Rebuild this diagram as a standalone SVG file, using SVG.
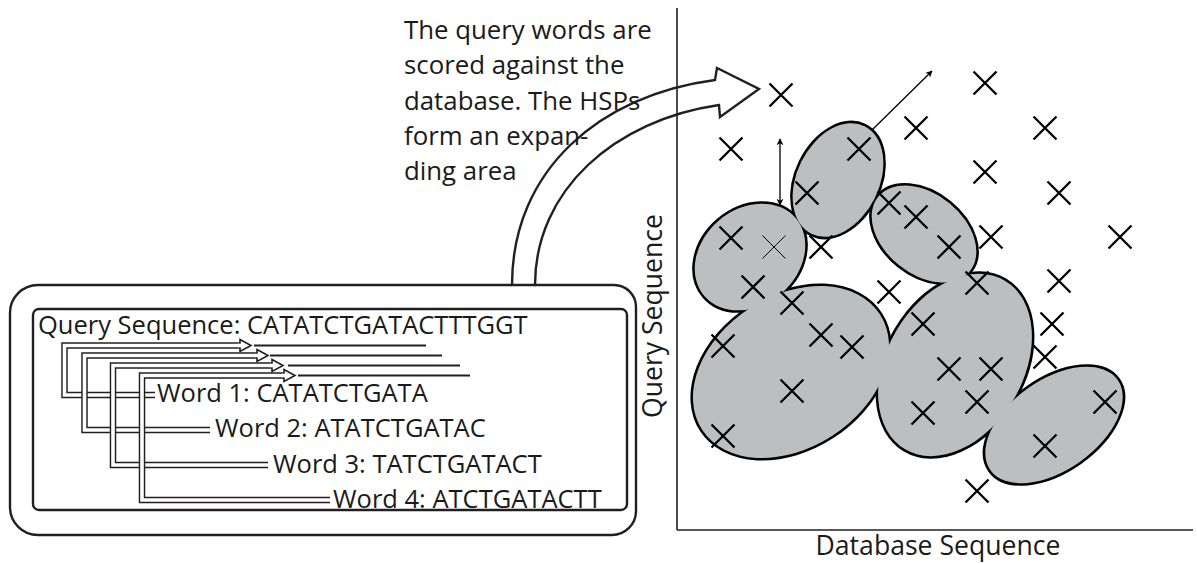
<svg xmlns="http://www.w3.org/2000/svg" xmlns:xlink="http://www.w3.org/1999/xlink" width="1197" height="564" viewBox="0 0 1197 564">
  <style>
    .t { font-family: "Open Sans", "Liberation Sans", sans-serif; font-size: 25.5px; fill: #1a1a1a; }
    .cap { font-size: 25.8px; }
    .ax { font-size: 26.6px; }
    .box { fill: none; stroke: #231f20; stroke-width: 2.4; }
    .dbl-o { fill: none; stroke: #231f20; stroke-width: 6.5; }
    .dbl-i { fill: none; stroke: #ffffff; stroke-width: 3.6; }
    .head { fill: #ffffff; stroke: #231f20; stroke-width: 1.6; stroke-linejoin: miter; }
    .seg { stroke: #231f20; stroke-width: 1.8; }
    .cross { fill: none; stroke: #000000; stroke-width: 2.3; }
    .cross-thin { fill: none; stroke: #000000; stroke-width: 1; }
    .axis { stroke: #231f20; stroke-width: 1.6; fill: none; }
    .blob-line { stroke: #000000; stroke-width: 5; fill: #bcbec0; }
    .blob-fill { fill: #bcbec0; stroke: none; }
    .thin-arrow { stroke: #000000; stroke-width: 1.3; fill: none; }
  </style>
  <defs>
    <path id="xmark" d="M-11.5,-11.5L11.5,11.5M-11.5,11.5L11.5,-11.5"/>
    <marker id="ah" viewBox="0 0 10 10" refX="9" refY="5" markerWidth="7" markerHeight="7" markerUnits="userSpaceOnUse" orient="auto-start-reverse">
      <path d="M0,0 L10,5 L0,10 L3,5 Z" fill="#000"/>
    </marker>
    <!-- HSP regions: each a rotated ellipse -->
    <g id="hsp">
      <ellipse cx="838" cy="180" rx="60" ry="41" transform="rotate(-63.7 838 180)"/>
      <ellipse cx="750" cy="257" rx="60" ry="48" transform="rotate(-40.4 750 257)"/>
      <ellipse cx="924" cy="234" rx="59" ry="40" transform="rotate(39 924 234)"/>
      <ellipse cx="791" cy="372" rx="106" ry="76" transform="rotate(-33 791 372)"/>
      <ellipse cx="955" cy="365" rx="98" ry="68" transform="rotate(-59.4 955 365)"/>
      <ellipse cx="1054" cy="425" rx="78" ry="45" transform="rotate(-35.4 1054 425)"/>
    </g>
  </defs>

  <rect width="1197" height="564" fill="#ffffff"/>

  <!-- Query / word panel -->
  <g id="query-panel">
    <path class="box" d="M512,285 H38 A28,28 0 0 0 10,313 V507 A28,28 0 0 0 38,535 H612 A24,24 0 0 0 636,511 V307 A22,22 0 0 0 614,285 H535"/>
    <rect class="box" x="33" y="309" width="594" height="201" rx="6" stroke-width="2"/>
    <text class="t" x="38" y="334">Query Sequence: CATATCTGATACTTTGGT</text>
    <text class="t" x="157" y="402">Word 1: CATATCTGATA</text>
    <text class="t" x="215" y="437">Word 2: ATATCTGATAC</text>
    <text class="t" x="273" y="473">Word 3: TATCTGATACT</text>
    <text class="t" x="333" y="508">Word 4: ATCTGATACTT</text>
  </g>

  <!-- Word-to-query connectors -->
  <g id="connectors">
    <line class="seg" x1="254" y1="345.5" x2="426" y2="345.5"/>
    <line class="seg" x1="270" y1="355.5" x2="442" y2="355.5"/>
    <line class="seg" x1="288" y1="365.5" x2="460" y2="365.5"/>
    <line class="seg" x1="298" y1="375.5" x2="470" y2="375.5"/>

    <path class="dbl-o" d="M155,395 H64.5 V345.5 H241"/>
    <path class="dbl-i" d="M155,395 H64.5 V345.5 H242"/>
    <path class="head" d="M240,339.5 L251,345.5 L240,351.5 Z"/>
    <line stroke="#fff" stroke-width="3.6" x1="238" y1="345.5" x2="241.5" y2="345.5"/>

    <path class="dbl-o" d="M210,430 H84.5 V355.5 H258"/>
    <path class="dbl-i" d="M210,430 H84.5 V355.5 H259"/>
    <path class="head" d="M257,349.5 L268,355.5 L257,361.5 Z"/>
    <line stroke="#fff" stroke-width="3.6" x1="255" y1="355.5" x2="258.5" y2="355.5"/>

    <path class="dbl-o" d="M268,465 H113 V365.5 H273"/>
    <path class="dbl-i" d="M268,465 H113 V365.5 H274"/>
    <path class="head" d="M272,359.5 L283,365.5 L272,371.5 Z"/>
    <line stroke="#fff" stroke-width="3.6" x1="270" y1="365.5" x2="273.5" y2="365.5"/>

    <path class="dbl-o" d="M330,500 H142 V375.5 H285"/>
    <path class="dbl-i" d="M330,500 H142 V375.5 H286"/>
    <path class="head" d="M284,369.5 L295,375.5 L284,381.5 Z"/>
    <line stroke="#fff" stroke-width="3.6" x1="282" y1="375.5" x2="285.5" y2="375.5"/>

    <!-- big curved hollow arrow from the panel to the plot -->
    <path d="M512,285 C512,170 600,95 715,80 L717,68 L759,89 L720,117 L719,105 C615,120 535,190 535,285 Z" fill="#ffffff" stroke="#231f20" stroke-width="2.4" stroke-linejoin="miter"/>
  </g>

  <!-- Caption -->
  <g id="caption">
    <text class="t cap" x="404" y="39">The query words are</text>
    <text class="t cap" x="404" y="74">scored against the</text>
    <text class="t cap" x="404" y="110">database. The HSPs</text>
    <text class="t cap" x="404" y="145">form an expan-</text>
    <text class="t cap" x="404" y="180">ding area</text>
  </g>

  <!-- Dot plot -->
  <g id="plot">
    <line class="axis" x1="677" y1="8" x2="677" y2="530"/>
    <line class="axis" x1="677" y1="530" x2="1193" y2="530"/>
    <text class="t ax" x="938" y="555" text-anchor="middle">Database Sequence</text>
    <text class="t ax" transform="translate(662 316) rotate(-90)" text-anchor="middle">Query Sequence</text>

    <use xlink:href="#hsp" class="blob-line"/>
    <use xlink:href="#hsp" class="blob-fill"/>

    <g class="cross">
      <use xlink:href="#xmark" x="781" y="95"/>
      <use xlink:href="#xmark" x="985" y="83"/>
      <use xlink:href="#xmark" x="731" y="149"/>
      <use xlink:href="#xmark" x="859" y="149"/>
      <use xlink:href="#xmark" x="916" y="128"/>
      <use xlink:href="#xmark" x="1045" y="128"/>
      <use xlink:href="#xmark" x="807" y="193"/>
      <use xlink:href="#xmark" x="985" y="172"/>
      <use xlink:href="#xmark" x="1059" y="193"/>
      <use xlink:href="#xmark" x="889" y="203"/>
      <use xlink:href="#xmark" x="916" y="217"/>
      <use xlink:href="#xmark" x="949" y="247"/>
      <use xlink:href="#xmark" x="991" y="237"/>
      <use xlink:href="#xmark" x="1120" y="237"/>
      <use xlink:href="#xmark" x="731" y="238"/>
      <use xlink:href="#xmark" x="821" y="247"/>
      <use xlink:href="#xmark" x="753" y="287"/>
      <use xlink:href="#xmark" x="792" y="303"/>
      <use xlink:href="#xmark" x="889" y="292"/>
      <use xlink:href="#xmark" x="977" y="283"/>
      <use xlink:href="#xmark" x="1059" y="281"/>
      <use xlink:href="#xmark" x="1052" y="324"/>
      <use xlink:href="#xmark" x="1045" y="357"/>
      <use xlink:href="#xmark" x="723" y="346"/>
      <use xlink:href="#xmark" x="821" y="335"/>
      <use xlink:href="#xmark" x="852" y="347"/>
      <use xlink:href="#xmark" x="923" y="324"/>
      <use xlink:href="#xmark" x="949" y="369"/>
      <use xlink:href="#xmark" x="991" y="369"/>
      <use xlink:href="#xmark" x="977" y="402"/>
      <use xlink:href="#xmark" x="923" y="413"/>
      <use xlink:href="#xmark" x="792" y="391"/>
      <use xlink:href="#xmark" x="723" y="436"/>
      <use xlink:href="#xmark" x="1045" y="446"/>
      <use xlink:href="#xmark" x="1105" y="402"/>
      <use xlink:href="#xmark" x="977" y="491"/>
    </g>
    <use xlink:href="#xmark" class="cross-thin" x="774" y="247"/>

    <!-- growth arrows -->
    <line class="thin-arrow" x1="780" y1="139" x2="780" y2="205" marker-start="url(#ah)" marker-end="url(#ah)"/>
    <line class="thin-arrow" x1="872" y1="130" x2="932" y2="71" marker-end="url(#ah)"/>
  </g>
</svg>
